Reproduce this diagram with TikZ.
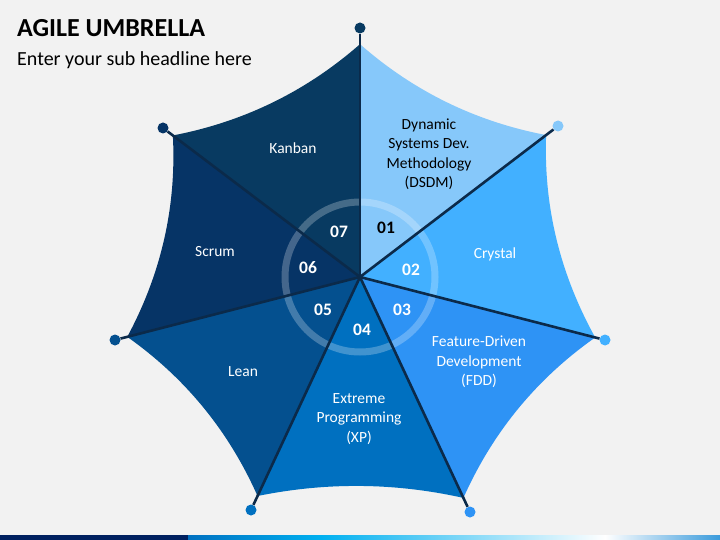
\documentclass[tikz,border=0pt]{standalone}
\usepackage{fontspec}
\setmainfont{Carlito}
\usetikzlibrary{calc}

\definecolor{bgcol}{HTML}{F2F2F2}
\definecolor{ribcol}{HTML}{0B2A4A}
\definecolor{pone}{HTML}{86C8FA}
\definecolor{ptwo}{HTML}{42B0FF}
\definecolor{pthree}{HTML}{2E93F5}
\definecolor{pfour}{HTML}{0070C0}
\definecolor{pfive}{HTML}{04508F}
\definecolor{psix}{HTML}{063466}
\definecolor{pseven}{HTML}{083A61}
\definecolor{barnavy}{HTML}{002060}
\definecolor{barblue}{HTML}{0070C0}
\definecolor{barcyan}{HTML}{00B0F0}
\definecolor{barend}{HTML}{3A9BDC}

\tikzset{
  rib/.style={draw=ribcol, line width=2.6pt},
  tipdot/.style={circle, inner sep=0pt, minimum size=11pt},
  panellabel/.style={text=white, font=\fontsize{15.5}{19.5}\selectfont, align=center},
  numtext/.style={text=white, font=\fontsize{17.5}{17.5}\selectfont\bfseries},
}

\begin{document}
\begin{tikzpicture}[x=1pt, y=-1pt]

\fill[bgcol] (0,0) rectangle (720,540);
\useasboundingbox (0,0) rectangle (720,540);

% title
\node[anchor=base west, inner sep=0pt, font=\fontsize{26}{26}\selectfont\bfseries] (title) at (17,37) {AGILE UMBRELLA};
\node[anchor=base west, inner sep=0pt, font=\fontsize{20}{20}\selectfont] (subtitle) at (17,66) {Enter your sub headline here};

% hub and rib ends
\coordinate (c) at (360,277);
\coordinate (e1) at (360,28);
\coordinate (e2) at (558,126);
\coordinate (e3) at (605,340);
\coordinate (e4) at (470,512);
\coordinate (e5) at (251,510);
\coordinate (e6) at (115,340);
\coordinate (e7) at (163,128);

% canopy corners
\coordinate (k1) at ($(c)!0.935!(e1)$);
\coordinate (k2) at ($(c)!0.94!(e2)$);
\coordinate (k3) at ($(c)!0.96!(e3)$);
\coordinate (k4) at ($(c)!0.94!(e4)$);
\coordinate (k5) at ($(c)!0.94!(e5)$);
\coordinate (k6) at ($(c)!0.95!(e6)$);
\coordinate (k7) at ($(c)!0.95!(e7)$);

% sag points of the edges
\coordinate (q1) at ($(c)!0.865!($(k1)!0.5!(k2)$)$);
\coordinate (q2) at ($(c)!0.865!($(k2)!0.5!(k3)$)$);
\coordinate (q3) at ($(c)!0.87!($(k3)!0.5!(k4)$)$);
\coordinate (q4) at ($(c)!0.9!($(k4)!0.5!(k5)$)$);
\coordinate (q5) at ($(c)!0.87!($(k5)!0.5!(k6)$)$);
\coordinate (q6) at ($(c)!0.865!($(k6)!0.5!(k7)$)$);
\coordinate (q7) at ($(c)!0.865!($(k7)!0.5!(k1)$)$);

% panels
\fill[pone] (c) -- (k1) .. controls ($(k1)!0.667!(q1)$) and ($(k2)!0.667!(q1)$) .. (k2) -- cycle;
\fill[ptwo] (c) -- (k2) .. controls ($(k2)!0.667!(q2)$) and ($(k3)!0.667!(q2)$) .. (k3) -- cycle;
\fill[pthree] (c) -- (k3) .. controls ($(k3)!0.667!(q3)$) and ($(k4)!0.667!(q3)$) .. (k4) -- cycle;
\fill[pfour] (c) -- (k4) .. controls ($(k4)!0.667!(q4)$) and ($(k5)!0.667!(q4)$) .. (k5) -- cycle;
\fill[pfive] (c) -- (k5) .. controls ($(k5)!0.667!(q5)$) and ($(k6)!0.667!(q5)$) .. (k6) -- cycle;
\fill[psix] (c) -- (k6) .. controls ($(k6)!0.667!(q6)$) and ($(k7)!0.667!(q6)$) .. (k7) -- cycle;
\fill[pseven] (c) -- (k7) .. controls ($(k7)!0.667!(q7)$) and ($(k1)!0.667!(q7)$) .. (k1) -- cycle;

% ring
\draw[white, opacity=0.25, line width=7pt] (c) circle (75);

% dots and ribs
\node[tipdot, fill=pseven] (d1) at (e1) {};
\node[tipdot, fill=pone] (d2) at (e2) {};
\node[tipdot, fill=ptwo] (d3) at (e3) {};
\node[tipdot, fill=pthree] (d4) at (e4) {};
\node[tipdot, fill=pfour] (d5) at (e5) {};
\node[tipdot, fill=pfive] (d6) at (e6) {};
\node[tipdot, fill=psix] (d7) at (e7) {};

\draw[rib] (c) -- (d1);
\draw[rib] (c) -- (d2);
\draw[rib] (c) -- (d3);
\draw[rib] (c) -- (d4);
\draw[rib] (c) -- (d5);
\draw[rib] (c) -- (d6);
\draw[rib] (c) -- (d7);

% labels
\node[panellabel, text=black] (dsdm) at (429,154) {Dynamic\\Systems Dev.\\Methodology\\(DSDM)};
\node[panellabel] (crystal) at (495,254) {Crystal};
\node[panellabel] (fdd) at (479,362) {Feature-Driven\\Development\\(FDD)};
\node[panellabel] (xp) at (359,419) {Extreme\\Programming\\(XP)};
\node[panellabel] (lean) at (243,372) {Lean};
\node[panellabel] (scrum) at (215,252) {Scrum};
\node[panellabel] (kanban) at (293,148) {Kanban};

% numbers
\node[numtext, text=black] (n01) at (386,228) {01};
\node[numtext] (n02) at (411,270) {02};
\node[numtext] (n03) at (402,310) {03};
\node[numtext] (n04) at (362,330) {04};
\node[numtext] (n05) at (323,310) {05};
\node[numtext] (n06) at (308,268) {06};
\node[numtext] (n07) at (339,232) {07};

% bottom bar
\fill[barnavy] (0,535) rectangle (188,540);
\shade[left color=barblue, right color=barcyan] (188,535) rectangle (321,540);
\shade[left color=barcyan, right color=white] (321,535) rectangle (605,540);
\shade[left color=white, right color=barend] (605,535) rectangle (720,540);

\end{tikzpicture}
\end{document}
